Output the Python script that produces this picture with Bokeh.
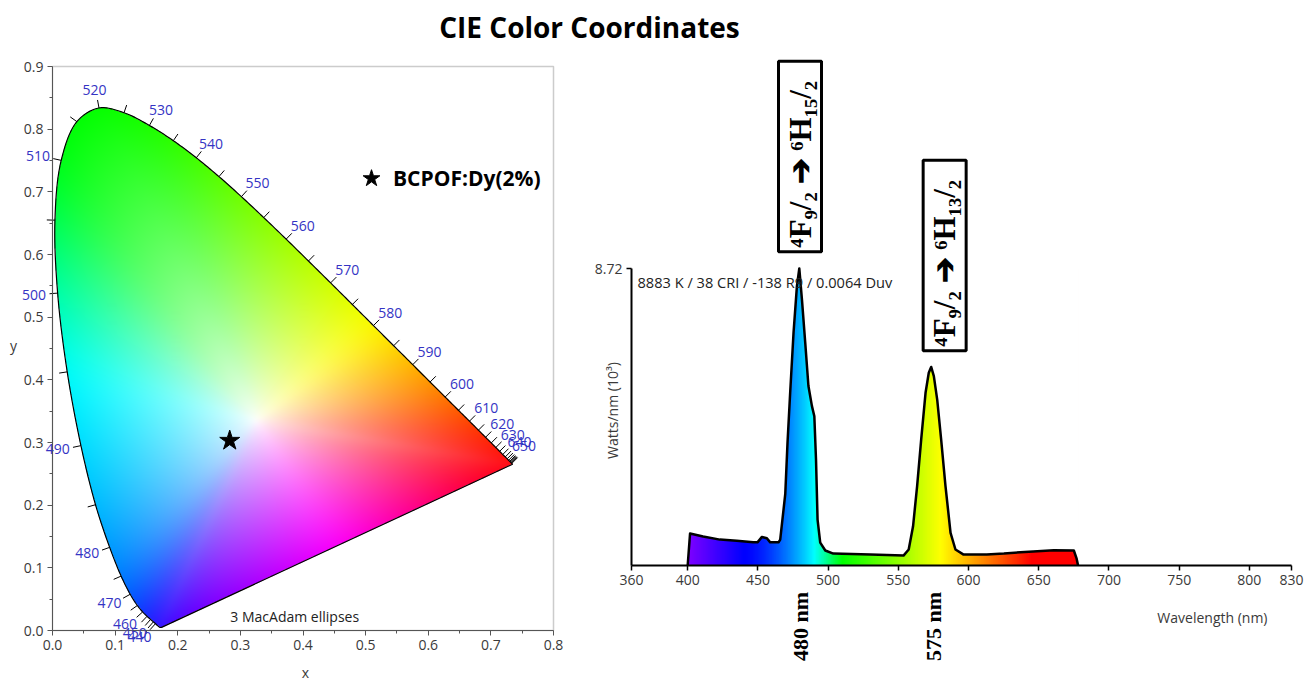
import numpy as np
from bokeh.plotting import figure
from bokeh.layouts import column, row
from bokeh.core.properties import value
from bokeh.models import (Range1d, FixedTicker, PrintfTickFormatter, Label, LabelSet,
                          ColumnDataSource, Legend, LegendItem, BoxAnnotation)
from bokeh.embed import file_html
from bokeh.resources import INLINE

# ---------------- data ----------------
title_text = "CIE Color Coordinates"
sample_name = "BCPOF:Dy(2%)"
sample_x = [0.283]
sample_y = [0.303]
ellipse_note = "3  MacAdam ellipses"

# CIE 1931 spectral locus (nm, x, y)
locus_nm = [380, 390, 400, 410, 420, 430, 435, 440, 445, 450, 455, 460, 465, 470, 475,
            480, 485, 490, 495, 500, 505, 510, 515, 520, 525, 530, 535, 540, 545, 550,
            555, 560, 565, 570, 575, 580, 585, 590, 595, 600, 605, 610, 615, 620, 625,
            630, 635, 640, 645, 650, 655, 660, 665, 670, 675, 680, 700]
locus_x = [0.1741, 0.1738, 0.1733, 0.1726, 0.1714, 0.1689, 0.1669, 0.1644, 0.1611, 0.1566,
           0.1510, 0.1440, 0.1355, 0.1241, 0.1096, 0.0913, 0.0687, 0.0454, 0.0235, 0.0082,
           0.0039, 0.0139, 0.0389, 0.0743, 0.1142, 0.1547, 0.1929, 0.2296, 0.2658, 0.3016,
           0.3373, 0.3731, 0.4087, 0.4441, 0.4788, 0.5125, 0.5448, 0.5752, 0.6029, 0.6270,
           0.6482, 0.6658, 0.6801, 0.6915, 0.7006, 0.7079, 0.7140, 0.7190, 0.7230, 0.7260,
           0.7283, 0.7300, 0.7311, 0.7320, 0.7327, 0.7334, 0.7347]
locus_y = [0.0050, 0.0049, 0.0048, 0.0048, 0.0051, 0.0069, 0.0086, 0.0109, 0.0138, 0.0177,
           0.0227, 0.0297, 0.0399, 0.0578, 0.0868, 0.1327, 0.2007, 0.2950, 0.4127, 0.5384,
           0.6548, 0.7502, 0.8120, 0.8338, 0.8262, 0.8059, 0.7816, 0.7543, 0.7243, 0.6923,
           0.6589, 0.6245, 0.5896, 0.5547, 0.5202, 0.4866, 0.4544, 0.4242, 0.3965, 0.3725,
           0.3514, 0.3340, 0.3197, 0.3083, 0.2993, 0.2920, 0.2859, 0.2809, 0.2770, 0.2740,
           0.2717, 0.2700, 0.2689, 0.2680, 0.2673, 0.2666, 0.2653]
tick_nm = list(range(440, 685, 5))
label_nm = list(range(440, 660, 10))

xy_ticks = [0.0, 0.1, 0.2, 0.3, 0.4, 0.5, 0.6, 0.7, 0.8]
y_ticks = [0.0, 0.1, 0.2, 0.3, 0.4, 0.5, 0.6, 0.7, 0.8, 0.9]

# emission spectrum (Watts/nm, 10^3)
spec_nm = [400, 401.7, 411, 423, 435, 446.7, 449.7, 452.9, 456.4, 458.8, 464.7, 465.9,
           469.5, 471.1, 473, 475.4, 477.8, 479.5, 481.4, 483.7, 486, 488.5, 490.2, 491.4,
           492.5, 494.4, 498, 503.7, 530, 553.7, 557.4, 560.5, 563.4, 566.3, 569.4, 571.7,
           573.4, 575.3, 577.7, 580.5, 583.6, 587.2, 590.7, 596.5, 613, 625.2, 637, 649,
           660.7, 675, 677, 678]
spec_val = [0.0, 0.94, 0.85, 0.76, 0.73, 0.68, 0.68, 0.84, 0.80, 0.68, 0.68, 0.76,
            2.1, 3.6, 5.08, 6.84, 8.2, 8.72, 7.8, 6.55, 5.27, 4.68, 4.38, 3.1,
            1.35, 0.67, 0.44, 0.35, 0.32, 0.29, 0.47, 1.15, 2.33, 3.7, 5.07, 5.66,
            5.83, 5.56, 4.87, 3.7, 2.33, 0.96, 0.47, 0.32, 0.32, 0.35, 0.39, 0.42,
            0.45, 0.44, 0.2, 0.0]
spec_ticks = [360, 400, 450, 500, 550, 600, 650, 700, 750, 800, 830]
spec_info = "8883 K / 38 CRI / -138 R9 / 0.0064 Duv"
peak_nm = [480, 575]
peak_labels = ["480 nm", "575 nm"]
transition_nm = [480, 583]
transition_labels = ["\u2074F\u2089/\u2082  \u2794  \u2076H\u2081\u2085/\u2082",
                     "\u2074F\u2089/\u2082  \u2794  \u2076H\u2081\u2083/\u2082"]

# ---------------- layout ----------------
W_TOTAL, H_TOTAL = 1315, 681
TITLE_H = 50
LEFT_W = 590
RIGHT_W = W_TOTAL - LEFT_W
PANEL_H = H_TOTAL - TITLE_H
SANS = "Open Sans"
TICK_COLOR = "#3a3a3a"

# pixel anchors (absolute page pixels) of the two panels
L_X0, L_X1, L_Y0, L_Y1 = 52, 553, 630, 66       # x=0, x=0.8, y=0, y=0.9
R_X0, R_X1, R_Y0, R_YT = 631, 1291, 565, 268    # 360 nm, 830 nm, value 0, top value


def lxd(px):
    return (px - L_X0) / (L_X1 - L_X0) * 0.8


def lyd(py):
    return (L_Y0 - py) / (L_Y0 - L_Y1) * 0.9


VMAX = max(spec_val)


def rxd(px):
    return 360 + (px - R_X0) / (R_X1 - R_X0) * 470


def ry(py):
    return (R_Y0 - py) / (R_Y0 - R_YT) * VMAX


# ---------------- title ----------------
tfig = figure(width=W_TOTAL, height=TITLE_H, x_range=Range1d(0, W_TOTAL), y_range=Range1d(0, TITLE_H),
              output_backend="svg", toolbar_location=None, min_border=0)
tfig.axis.visible = False
tfig.grid.visible = False
tfig.outline_line_color = None
tfig.add_layout(Label(x=589, y=24, text=title_text, text_align="center", text_baseline="middle",
                      text_font=SANS, text_font_style="bold", text_font_size="28px", text_color="black"))

# ---------------- CIE diagram ----------------
left = figure(width=LEFT_W, height=PANEL_H,
              x_range=Range1d(lxd(0), lxd(LEFT_W)), y_range=Range1d(lyd(H_TOTAL), lyd(TITLE_H)),
              output_backend="svg", toolbar_location=None, min_border=0)
left.grid.visible = False
left.outline_line_color = None

NSEG = 10


def catmull_rom(px, py, nseg=NSEG):
    P = np.column_stack([px, py]).astype(float)
    P = np.vstack([2 * P[0] - P[1], P, 2 * P[-1] - P[-2]])
    out = []
    for i in range(1, len(P) - 2):
        p0, p1, p2, p3 = P[i - 1], P[i], P[i + 1], P[i + 2]
        t0 = 0.0
        t1 = t0 + max(np.linalg.norm(p1 - p0), 1e-9) ** 0.5
        t2 = t1 + max(np.linalg.norm(p2 - p1), 1e-9) ** 0.5
        t3 = t2 + max(np.linalg.norm(p3 - p2), 1e-9) ** 0.5
        for t in np.linspace(t1, t2, nseg, endpoint=False):
            a1 = (t1 - t) / (t1 - t0) * p0 + (t - t0) / (t1 - t0) * p1
            a2 = (t2 - t) / (t2 - t1) * p1 + (t - t1) / (t2 - t1) * p2
            a3 = (t3 - t) / (t3 - t2) * p2 + (t - t2) / (t3 - t2) * p3
            b1 = (t2 - t) / (t2 - t0) * a1 + (t - t0) / (t2 - t0) * a2
            b2 = (t3 - t) / (t3 - t1) * a2 + (t - t1) / (t3 - t1) * a3
            out.append((t2 - t) / (t2 - t1) * b1 + (t - t1) / (t2 - t1) * b2)
    out.append(P[-2])
    out = np.array(out)
    return out[:, 0], out[:, 1]


def cie_wl_rgb(w):
    if w < 440:
        return (0.35 * (440 - w) / 60.0 + 0.15, 0.0, 1.0)
    if w < 495:
        return (0.0, ((w - 440) / 55.0) ** 1.5, 1.0)
    if w < 510:
        return (0.0, 1.0, (510 - w) / 15.0)
    if w < 525:
        return (0.0, 1.0, 0.0)
    if w < 580:
        return ((w - 525) / 55.0, 1.0, 0.0)
    if w < 645:
        return (1.0, ((645 - w) / 65.0) ** 2, 0.0)
    return (1.0, 0.0, 0.0)


def blur1d(a, r, axis):
    pad = [(0, 0)] * a.ndim
    pad[axis] = (r + 1, r)
    ap = np.pad(a, pad, mode="edge")
    c = np.cumsum(ap, axis=axis)
    n = a.shape[axis]
    hi = np.take(c, np.arange(2 * r + 1, 2 * r + 1 + n), axis=axis)
    lo = np.take(c, np.arange(0, n), axis=axis)
    return (hi - lo) / (2 * r + 1)


lx = np.array(locus_x)
ly = np.array(locus_y)
sx, sy = catmull_rom(lx, ly)
snm = np.concatenate([np.linspace(locus_nm[i], locus_nm[i + 1], NSEG, endpoint=False)
                      for i in range(len(locus_nm) - 1)] + [[locus_nm[-1]]])

# boundary samples: spectral locus + line of purples
tp = np.linspace(0, 1, 120)[1:-1]
bx = np.concatenate([sx, sx[-1] + (sx[0] - sx[-1]) * tp])
by = np.concatenate([sy, sy[-1] + (sy[0] - sy[-1]) * tp])
bcol = [cie_wl_rgb(w) for w in snm]
for t in tp:  # t=0 red end, t=1 blue end
    u = 1 - t
    bcol.append((min(1.0, 0.3 + 1.4 * u), 0.0, min(1.0, 2.0 * t)))
bcol = np.array(bcol)
WX, WY = 0.325, 0.335
ba = np.arctan2(by - WY, bx - WX)
bd = np.hypot(bx - WX, by - WY)
order = np.argsort(ba)
ba, bd, bcol = ba[order], bd[order], bcol[order]
ba_w = np.concatenate([ba[-1:] - 2 * np.pi, ba, ba[:1] + 2 * np.pi])
bd_w = np.concatenate([bd[-1:], bd, bd[:1]])
bcol_w = np.vstack([bcol[-1:], bcol, bcol[:1]])

# smooth the hue ring in angle
NA = 1440
ag = np.linspace(-np.pi, np.pi, NA, endpoint=False)
sig = np.deg2rad(6.0)
KH = 60
kern = np.exp(-0.5 * ((np.arange(-KH, KH + 1) * 2 * np.pi / NA) / sig) ** 2)
kern /= kern.sum()
ring = []
for k in range(3):
    cg = np.interp(ag, ba_w, bcol_w[:, k])
    cg = np.convolve(np.concatenate([cg[-KH:], cg, cg[:KH]]), kern, mode="valid")
    ring.append(cg)
ring = np.array(ring).T
ag_w = np.concatenate([ag[-1:] - 2 * np.pi, ag, ag[:1] + 2 * np.pi])
ring_w = np.vstack([ring[-1:], ring, ring[:1]])

nx, ny = 501, 564
gx = (np.arange(nx) + 0.5) / nx * 0.8
gy = (np.arange(ny) + 0.5) / ny * 0.9
GX, GY = np.meshgrid(gx, gy)
inside = np.zeros(GX.shape, dtype=bool)
j = len(sx) - 1
for i in range(len(sx)):
    xi, yi, xj, yj = sx[i], sy[i], sx[j], sy[j]
    denom = (yj - yi) if abs(yj - yi) > 1e-12 else 1e-12
    cond = ((yi > GY) != (yj > GY)) & (GX < (xj - xi) * (GY - yi) / denom + xi)
    inside ^= cond
    j = i
pa = np.arctan2(GY - WY, GX - WX)
pd = np.hypot(GX - WX, GY - WY)
dmax = np.interp(pa, ba_w, bd_w)
sat = np.clip(pd / dmax, 0, 1) ** 0.8
rgb = np.empty(GX.shape + (3,))
for k in range(3):
    ch = np.interp(pa, ag_w, ring_w[:, k])
    rgb[..., k] = 1 - sat * (1 - ch)
rgb = blur1d(blur1d(rgb, 4, 0), 4, 1)
rgb = np.clip(rgb, 0, 1)
img = np.zeros((ny, nx), dtype=np.uint32)
view = img.view(dtype=np.uint8).reshape((ny, nx, 4))
view[..., 0] = (rgb[..., 0] * 255).astype(np.uint8)
view[..., 1] = (rgb[..., 1] * 255).astype(np.uint8)
view[..., 2] = (rgb[..., 2] * 255).astype(np.uint8)
view[..., 3] = np.where(inside, 255, 0).astype(np.uint8)
left.image_rgba(image=[img], x=0, y=0, dw=0.8, dh=0.9)

# outline of horseshoe
left.line(list(sx) + [sx[0]], list(sy) + [sy[0]], line_color="black", line_width=1.2)

# wavelength ticks and labels
wx, wy = 0.3333, 0.3333
t0x, t0y, t1x, t1y = [], [], [], []
labx, laby, labt = [], [], []
TL = 0.013
for nm in tick_nm:
    i = locus_nm.index(nm)
    tx = lx[i + 1] - lx[i - 1]
    ty = ly[i + 1] - ly[i - 1]
    nrm = np.hypot(tx, ty)
    nxv, nyv = ty / nrm, -tx / nrm
    if nxv * (lx[i] - wx) + nyv * (ly[i] - wy) < 0:
        nxv, nyv = -nxv, -nyv
    t0x.append(lx[i]); t0y.append(ly[i])
    t1x.append(lx[i] + nxv * TL); t1y.append(ly[i] + nyv * TL)
    if nm in label_nm:
        labx.append(lx[i] + nxv * (TL + 0.004) + nxv * 0.021)
        laby.append(ly[i] + nyv * (TL + 0.004) + nyv * 0.012)
        labt.append(str(nm))
left.segment(t0x, t0y, t1x, t1y, line_color="black", line_width=1)
left.add_layout(LabelSet(x="x", y="y", text="t", source=ColumnDataSource(dict(x=labx, y=laby, t=labt)),
                         text_align="center", text_baseline="middle", text_font_size=value("14px"),
                         text_color="#3434c4", text_font=value(SANS)))

# frame box
left.add_layout(BoxAnnotation(left=0, right=0.8, bottom=0, top=0.9, fill_alpha=0,
                              line_color="#555555", line_width=1.5))

star = left.scatter(sample_x, sample_y, marker="star", size=21, color="black")
leg = Legend(items=[LegendItem(label=sample_name, renderers=[star])],
             location=(349, H_TOTAL - 178 - 22),
             background_fill_alpha=0, border_line_alpha=0, padding=0, margin=0, spacing=0,
             glyph_width=44, glyph_height=44, label_height=44, label_standoff=0,
             label_text_font=SANS, label_text_font_style="bold", label_text_font_size="21px",
             label_text_color="black", label_text_baseline="middle")
left.add_layout(leg)
left.add_layout(Label(x=0.284, y=0.022, text=ellipse_note, text_align="left", text_baseline="middle",
                      text_font=SANS, text_font_size="14px", text_color="#222222"))

left.xaxis.fixed_location = 0
left.yaxis.fixed_location = 0
left.xaxis.bounds = (0, 0.8)
left.yaxis.bounds = (0, 0.9)
for ax in (left.xaxis[0], left.yaxis[0]):
    ax.axis_line_color = "#555555"
    ax.major_tick_line_color = "#555555"
    ax.minor_tick_line_color = "#555555"
    ax.major_tick_out = 5
    ax.major_tick_in = 0
    ax.minor_tick_out = 3
    ax.minor_tick_in = 0
    ax.major_label_text_font = SANS
    ax.major_label_text_font_size = "14px"
    ax.major_label_text_color = TICK_COLOR
    ax.major_label_standoff = 4
    ax.formatter = PrintfTickFormatter(format="%.1f")
left.xaxis.ticker = FixedTicker(ticks=xy_ticks, minor_ticks=[t + 0.05 for t in xy_ticks[:-1]])
left.yaxis.ticker = FixedTicker(ticks=y_ticks, minor_ticks=[t + 0.05 for t in y_ticks[:-1]])
left.add_layout(Label(x=lxd(305), y=lyd(672), text="x", text_align="center", text_baseline="middle",
                      text_font=SANS, text_font_size="14px", text_color=TICK_COLOR))
left.add_layout(Label(x=lxd(13), y=lyd(345), text="y", text_align="center", text_baseline="middle",
                      text_font=SANS, text_font_size="14px", text_color=TICK_COLOR))

# ---------------- spectrum ----------------
right = figure(width=RIGHT_W, height=PANEL_H,
               x_range=Range1d(rxd(LEFT_W), rxd(W_TOTAL)), y_range=Range1d(ry(H_TOTAL), ry(TITLE_H)),
               output_backend="svg", toolbar_location=None, min_border=0)
right.grid.visible = False
right.outline_line_color = None


def wl_rgb(w):
    if w < 440:
        r, g, b = 0.75 * (440 - w) / 60.0, 0.0, 1.0
    elif w < 490:
        r, g, b = 0.0, ((w - 440) / 50.0) ** 1.5, 1.0
    elif w < 510:
        r, g, b = 0.0, 1.0, (510 - w) / 20.0
    elif w < 580:
        r, g, b = (w - 510) / 70.0, 1.0, 0.0
    elif w < 645:
        r, g, b = 1.0, (645 - w) / 65.0, 0.0
    else:
        r, g, b = 1.0, 0.0, 0.0
    return r, g, b


w0, w1 = spec_nm[0], spec_nm[-1]
ncol = int(round((w1 - w0) * 2))
rimg = np.zeros((1, ncol), dtype=np.uint32)
rv = rimg.view(dtype=np.uint8).reshape((1, ncol, 4))
for c in range(ncol):
    r, g, b = wl_rgb(w0 + (c + 0.5) * (w1 - w0) / ncol)
    rv[0, c, 0] = int(r * 255)
    rv[0, c, 1] = int(g * 255)
    rv[0, c, 2] = int(b * 255)
    rv[0, c, 3] = 255
right.image_rgba(image=[rimg], x=w0, y=0, dw=w1 - w0, dh=VMAX)
# white mask above the curve
right.patch(list(spec_nm) + [w1 + 0.5, w1 + 0.5, w0 - 0.5, w0 - 0.5],
            list(spec_val) + [0, VMAX * 1.02, VMAX * 1.02, 0],
            fill_color="white", line_color="white", line_width=1)
right.line(spec_nm, spec_val, line_color="black", line_width=2.5, line_join="round")

right.xaxis.fixed_location = 0
right.yaxis.fixed_location = 360
right.xaxis.bounds = (360, 830)
right.yaxis.bounds = (0, VMAX)
right.xaxis.ticker = FixedTicker(ticks=spec_ticks, minor_ticks=[])
right.yaxis.ticker = FixedTicker(ticks=[VMAX], minor_ticks=[])
right.yaxis.formatter = PrintfTickFormatter(format="%.2f")
for ax in (right.xaxis[0], right.yaxis[0]):
    ax.axis_line_color = "black"
    ax.axis_line_width = 2
    ax.major_tick_line_color = "black"
    ax.major_tick_line_width = 1.5
    ax.major_tick_out = 5
    ax.major_tick_in = 0
    ax.major_label_text_font = SANS
    ax.major_label_text_font_size = "14px"
    ax.major_label_text_color = TICK_COLOR
    ax.major_label_standoff = 4

right.add_layout(Label(x=rxd(637), y=ry(281), text=spec_info, text_align="left", text_baseline="middle",
                       text_font=SANS, text_font_size="14.6px", text_color="#222222"))
right.add_layout(Label(x=rxd(612), y=ry(410), text="Watts/nm (10\u00b3)",
                       angle=np.pi / 2, text_align="center", text_baseline="middle",
                       text_font=SANS, text_font_size="14px", text_color=TICK_COLOR))
right.add_layout(Label(x=rxd(1267), y=ry(617), text="Wavelength (nm)", text_align="right",
                       text_baseline="middle", text_font=SANS, text_font_size="14px",
                       text_color=TICK_COLOR))
for nm, txt in zip(peak_nm, peak_labels):
    right.add_layout(Label(x=nm, y=ry(626), text=txt, angle=np.pi / 2, text_align="center",
                           text_baseline="middle", text_font="Liberation Serif",
                           text_font_style="bold", text_font_size="22px", text_color="black"))
for nm, txt, pix in zip(transition_nm, transition_labels, [156, 255]):
    right.add_layout(Label(x=nm, y=ry(pix), text=txt, angle=np.pi / 2, text_align="center",
                           text_baseline="middle", text_font="Liberation Serif",
                           text_font_style="bold", text_font_size="31px", text_color="black",
                           border_line_color="black", border_line_width=3,
                           background_fill_color="white", padding=4))

layout = column(tfig, row(left, right, spacing=0), spacing=0)
open("out.html", "w").write(file_html(layout, INLINE, title="CIE Color Coordinates"))
